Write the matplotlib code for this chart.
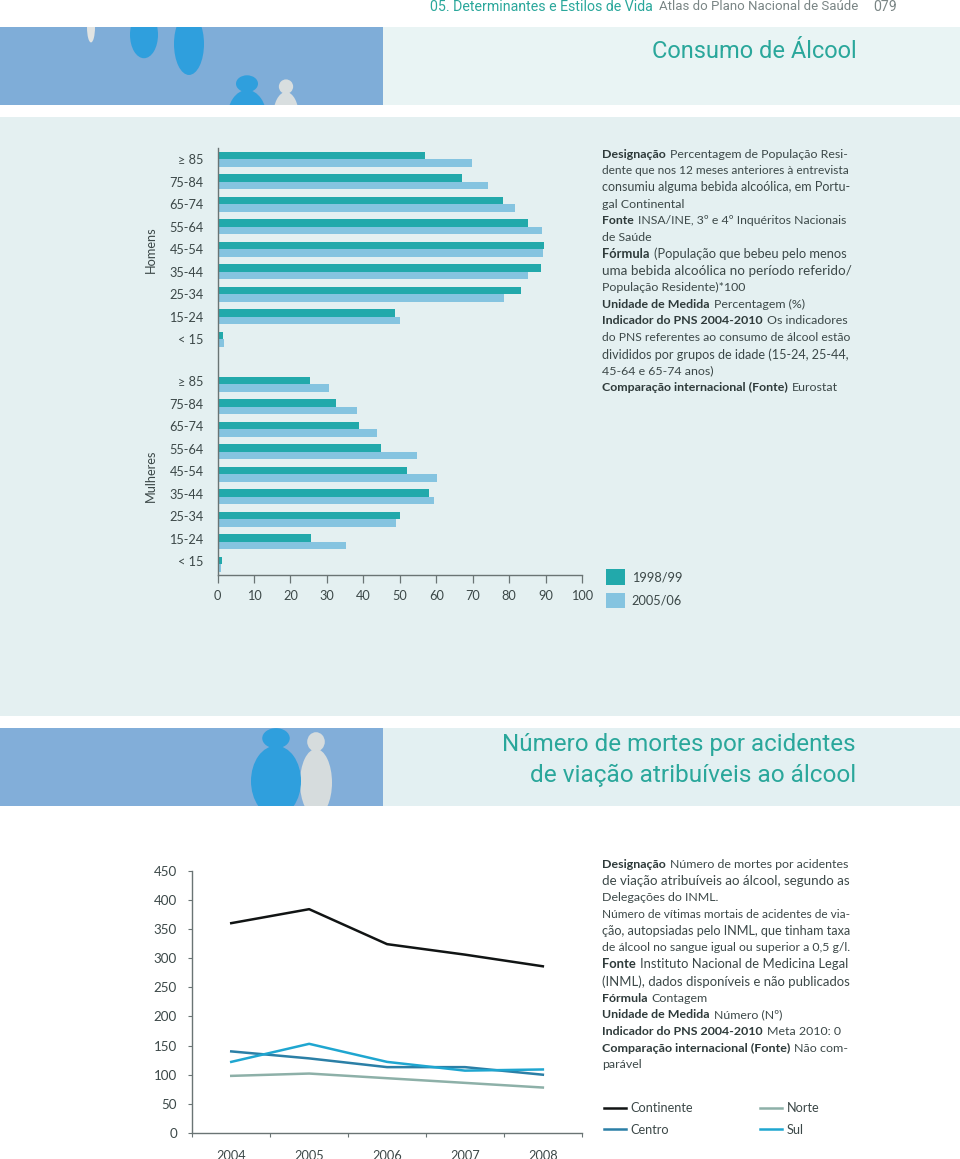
import matplotlib
matplotlib.use("Agg")
import matplotlib.pyplot as plt
from matplotlib.patches import Rectangle, Ellipse, FancyBboxPatch
from matplotlib.lines import Line2D
from matplotlib.transforms import ScaledTranslation

# ---------- data ----------
age_groups = ["≥ 85", "75-84", "65-74", "55-64", "45-54", "35-44", "25-34", "15-24", "< 15"]
men_1998 = [56.8, 67.0, 78.4, 85.3, 89.7, 88.8, 83.2, 48.7, 1.4]
men_2005 = [69.7, 74.3, 81.6, 88.9, 89.4, 85.3, 78.6, 50.0, 1.7]
women_1998 = [25.5, 32.5, 38.7, 44.9, 52.0, 58.1, 50.1, 25.7, 1.3]
women_2005 = [30.5, 38.4, 43.8, 54.8, 60.2, 59.3, 49.0, 35.3, 1.0]
period_labels = ["1998/99", "2005/06"]
pct_ticks = [0, 10, 20, 30, 40, 50, 60, 70, 80, 90, 100]

years = ["2004", "2005", "2006", "2007", "2008"]
continente = [360, 384, 324, 306, 286]
centro = [140, 128, 113, 113, 100]
norte = [98, 102, 94, 86, 78]
sul = [122, 153, 122, 107, 109]
death_ticks = [0, 50, 100, 150, 200, 250, 300, 350, 400, 450]

text_block_1 = [
    ("Designação", "Percentagem de População Resi-", True),
    ("", "dente que nos 12 meses anteriores à entrevista", True),
    ("", "consumiu alguma bebida alcoólica, em Portu-", True),
    ("", "gal Continental", False),
    ("Fonte", "INSA/INE, 3º e 4º Inquéritos Nacionais", True),
    ("", "de Saúde", False),
    ("Fórmula", "(População que bebeu pelo menos", True),
    ("", "uma bebida alcoólica no período referido/", True),
    ("", "População Residente)*100", False),
    ("Unidade de Medida", "Percentagem (%)", False),
    ("Indicador do PNS 2004-2010", "Os indicadores", True),
    ("", "do PNS referentes ao consumo de álcool estão", True),
    ("", "divididos por grupos de idade (15-24, 25-44,", True),
    ("", "45-64 e 65-74 anos)", False),
    ("Comparação internacional (Fonte)", "Eurostat", False),
]
text_block_2 = [
    ("Designação", "Número de mortes por acidentes", True),
    ("", "de viação atribuíveis ao álcool, segundo as", True),
    ("", "Delegações do INML.", False),
    ("", "Número de vítimas mortais de acidentes de via-", True),
    ("", "ção, autopsiadas pelo INML, que tinham taxa", True),
    ("", "de álcool no sangue igual ou superior a 0,5 g/l.", True),
    ("Fonte", "Instituto Nacional de Medicina Legal", True),
    ("", "(INML), dados disponíveis e não publicados", True),
    ("Fórmula", "Contagem", False),
    ("Unidade de Medida", "Número (Nº)", False),
    ("Indicador do PNS 2004-2010", "Meta 2010: 0", False),
    ("Comparação internacional (Fonte)", "Não com-", True),
    ("", "parável", False),
]

# ---------- styles ----------
W, H = 960, 1159
TEAL = "#22A9AB"
LIGHT = "#85C4E0"
TITLE = "#2AA79B"
INK = "#3C4848"
AXIS = "#6A7474"
BODY = ["Lato", "DejaVu Sans"]
NARROW = ["Liberation Sans Narrow", "Roboto", "DejaVu Sans"]
BODY_PT = 8.9

fig = plt.figure(figsize=(W / 100, H / 100), dpi=100, facecolor="white")
renderer = fig.canvas.get_renderer()


def box(left, top, right, bottom):
    return [left / W, 1 - bottom / H, (right - left) / W, (bottom - top) / H]


# ---------- page background (pixel space) ----------
bg = fig.add_axes([0, 0, 1, 1], zorder=0)
bg.set_xlim(0, W)
bg.set_ylim(H, 0)
bg.axis("off")
bg.add_patch(Rectangle((383, 27), 577, 78, fc="#E9F4F4", ec="none"))
bg.add_patch(Rectangle((0, 117), 960, 599, fc="#E4F0F1", ec="none"))
bg.add_patch(Rectangle((383, 728), 577, 78, fc="#E3F0F2", ec="none"))
band1 = Rectangle((0, 27), 383, 78, fc="#7FADD8", ec="none")
band2 = Rectangle((0, 728), 383, 78, fc="#82AED9", ec="none")
bg.add_patch(band1)
bg.add_patch(band2)


def person(cx, top, w, h, colour, band):
    """Small silhouette: a head and a rounded body, clipped to the band."""
    head = Ellipse((cx, top + h * 0.11), w * 0.55, h * 0.24, fc=colour, ec="none")
    body = Ellipse((cx, top + h * 0.62), w, h * 0.84, fc=colour, ec="none")
    for p in (head, body):
        bg.add_patch(p)
        p.set_clip_path(band)


person(91, 5, 8, 36, "#E2E4E2", band1)
person(144, 0, 28, 56, "#2F9FDD", band1)
person(189, -2, 30, 74, "#2F9FDD", band1)
person(247, 76, 40, 70, "#2F9FDD", band1)
person(286, 80, 26, 60, "#D8DEDF", band1)
person(316, 733, 32, 80, "#D6DCDD", band2)
person(276, 729, 50, 84, "#2F9FDD", band2)


def fit_text(x, y, s, width=None, ha="left", **kw):
    t = bg.text(x, y, s, ha=ha, va="center", **kw)
    if width:
        t.set_fontsize(t.get_fontsize() * width / t.get_window_extent(renderer).width)
    return t


# ---------- headers ----------
fit_text(430, 7, "05. Determinantes e Estilos de Vida", width=221, color=TITLE, family=NARROW, fontsize=11)
fit_text(659, 7, "Atlas do Plano Nacional de Saúde", width=197, color="#7A8585", family=NARROW, fontsize=11)
fit_text(873, 7, "079", width=24, color="#7A8585", family=NARROW, fontsize=11)
fit_text(857, 52, "Consumo de Álcool", width=205, ha="right", color=TITLE, family=NARROW, fontsize=18)
fit_text(856, 745, "Número de mortes por acidentes", width=353, ha="right", color=TITLE, family=NARROW, fontsize=18)
fit_text(856, 775, "de viação atribuíveis ao álcool", width=326, ha="right", color=TITLE, family=NARROW, fontsize=18)


# ---------- note blocks ----------
def note_block(lines, x, y0, step, width):
    for i, (lead, rest, justify) in enumerate(lines):
        y = y0 + i * step
        size = BODY_PT
        if justify:
            probe = 0
            if lead:
                t = bg.text(0, 0, lead + " ", fontsize=size, family=BODY, weight="bold")
                probe += t.get_window_extent(renderer).width + 3
                t.remove()
            t = bg.text(0, 0, rest, fontsize=size, family=BODY)
            probe += t.get_window_extent(renderer).width
            t.remove()
            size *= min(1.12, max(0.88, width / probe))
        cx = x
        if lead:
            t = bg.text(cx, y, lead, fontsize=size, family=BODY, weight="bold", color="#2E3A3A", va="center")
            cx += t.get_window_extent(renderer).width + 4
        bg.text(cx, y, rest, fontsize=size, family=BODY, color=INK, va="center")


note_block(text_block_1, 602, 154, 16.7, 248)
note_block(text_block_2, 602, 864, 16.75, 248)

# ---------- bar chart ----------
ax = fig.add_axes(box(217.5, 148, 582, 575), zorder=1)
ax.patch.set_alpha(0)
slots = list(range(9)) + list(range(10, 19))
labels = age_groups + age_groups
v_1998 = men_1998 + women_1998
v_2005 = men_2005 + women_2005
bar_h = 0.335
ax.barh([s - bar_h / 2 for s in slots], v_1998, height=bar_h, color=TEAL, label=period_labels[0])
ax.barh([s + bar_h / 2 for s in slots], v_2005, height=bar_h, color=LIGHT, label=period_labels[1])
ax.set_xlim(0, 100)
ax.set_ylim(18.48, -0.51)
ax.set_xticks(pct_ticks)
ax.set_yticks(slots)
ax.set_yticklabels(labels, family=BODY, fontsize=9.2, color=INK)
ax.tick_params(axis="y", length=0, pad=10)
ax.tick_params(axis="x", length=6, width=0.9, color=AXIS, labelsize=9.2, labelcolor=INK, pad=5)
for lab in ax.get_xticklabels():
    lab.set_family(BODY)
for s in ("top", "right"):
    ax.spines[s].set_visible(False)
for s in ("left", "bottom"):
    ax.spines[s].set_color(AXIS)
    ax.spines[s].set_linewidth(1.0)
for slot, lab in zip(slots, ax.get_yticklabels()):
    if slot > 9:
        lab.set_transform(lab.get_transform() + ScaledTranslation(0, 3 / 100, fig.dpi_scale_trans))
bg.text(151, 250, "Homens", rotation=90, ha="center", va="center", family=BODY, fontsize=9.2, color=INK)
bg.text(151, 476, "Mulheres", rotation=90, ha="center", va="center", family=BODY, fontsize=9.2, color=INK)
ax.legend(
    loc="upper left", bbox_to_anchor=(606 / W, 1 - 569 / H), bbox_transform=fig.transFigure,
    frameon=False, handlelength=1.5, handleheight=1.5, handletextpad=0.5, labelspacing=0.62,
    borderpad=0, borderaxespad=0, prop={"family": BODY, "size": 9.2}, labelcolor=INK,
)

# ---------- line chart ----------
ax2 = fig.add_axes(box(192.3, 870.7, 581.8, 1133), zorder=1)
ax2.patch.set_alpha(0)
x = range(len(years))
ax2.plot(x, continente, color="#111414", lw=1.8, label="Continente")
ax2.plot(x, centro, color="#2B7FA6", lw=1.8, label="Centro")
ax2.plot(x, norte, color="#8DB0A8", lw=1.8, label="Norte")
ax2.plot(x, sul, color="#1FA6D0", lw=1.8, label="Sul")
ax2.set_xlim(-0.5, 4.5)
ax2.set_ylim(0, 450)
ax2.set_yticks(death_ticks)
ax2.set_xticks(list(x))
ax2.set_xticklabels(years)
ax2.set_xticks([i - 0.5 for i in range(len(years) + 1)], minor=True)
ax2.tick_params(axis="x", which="major", length=0, pad=12, labelsize=9.2, labelcolor=INK)
ax2.tick_params(axis="x", which="minor", length=3, width=0.8, color=AXIS)
ax2.tick_params(axis="y", length=3, width=0.8, color=AXIS, pad=8, labelsize=9.6, labelcolor=INK)
for lab in ax2.get_xticklabels() + ax2.get_yticklabels():
    lab.set_family(BODY)
for s in ("top", "right"):
    ax2.spines[s].set_visible(False)
for s in ("left", "bottom"):
    ax2.spines[s].set_color(AXIS)
    ax2.spines[s].set_linewidth(1.0)
ax2.legend(
    loc="upper left", bbox_to_anchor=(604 / W, 1 - 1102 / H), bbox_transform=fig.transFigure,
    ncols=2, frameon=False, handlelength=1.75, handletextpad=0.35, columnspacing=5.2,
    labelspacing=0.75, borderpad=0, borderaxespad=0, prop={"family": BODY, "size": 9.2}, labelcolor=INK,
)

fig.savefig("out.png", dpi=100)
